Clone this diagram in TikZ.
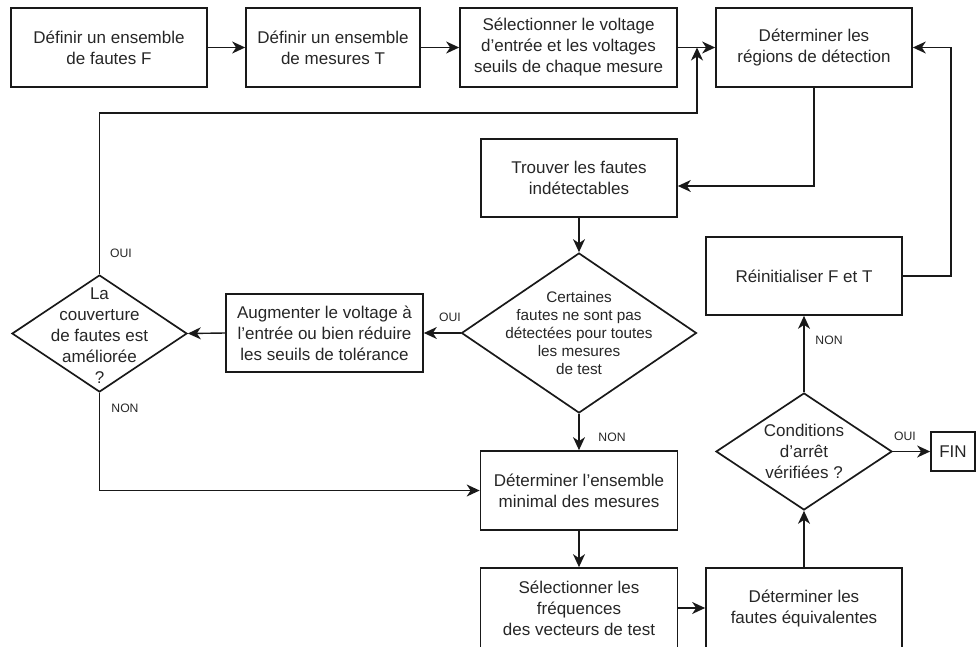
\documentclass[tikz,border=0pt]{standalone}
\usepackage{fontspec}
\setmainfont{Liberation Sans}
\usetikzlibrary{shapes.geometric,arrows.meta,calc}
\tikzset{
  boxnode/.style={draw=black!90, line width=1.7pt, rectangle, align=center, inner sep=2pt,
    font=\fontsize{17}{21}\selectfont, text=black!85},
  dia/.style={draw=black!90, line width=1.7pt, diamond, inner sep=0pt, aspect=1.5},
  diatext/.style={align=center, font=\fontsize{17}{21}\selectfont, text=black!85},
  diatextsmall/.style={align=center, font=\fontsize{15.3}{18}\selectfont, text=black!85},
  arr/.style={draw=black!90, line width=1.4pt, -{Stealth[length=13pt,width=12pt,inset=4pt]}},
  lab/.style={font=\fontsize{12.2}{14}\selectfont, text=black!85, inner sep=0pt}
}
\begin{document}
\begin{tikzpicture}[x=1pt,y=-1pt]
\useasboundingbox (0,0) rectangle (978,646);
% top row
\node[boxnode, minimum width=196pt, minimum height=79pt] (b1) at (109,47.5) {Définir un ensemble\\de fautes F};
\node[boxnode, minimum width=174pt, minimum height=79pt] (b2) at (333,47.5) {Définir un ensemble\\de mesures T};
\node[boxnode, minimum width=217pt, minimum height=79pt] (b3) at (568.5,47.5) {Sélectionner le voltage\\d’entrée et les voltages\\seuils de chaque mesure};
\node[boxnode, minimum width=196pt, minimum height=79pt] (b4) at (814,47.5) {Déterminer les\\régions de détection};
% middle
\node[boxnode, minimum width=196pt, minimum height=78pt] (tr) at (579,178) {Trouver les fautes\\indétectables};
\node[dia, minimum width=235pt, minimum height=160pt,
  label={[diatextsmall]center:{Certaines\\fautes ne sont pas\\détectées pour toutes\\les mesures\\de test}}] (d1) at (579,333) {};
\node[boxnode, minimum width=197pt, minimum height=78pt] (au) at (324.5,333) {Augmenter le voltage à\\l’entrée ou bien réduire\\les seuils de tolérance};
\node[dia, minimum width=175pt, minimum height=117pt,
  label={[diatext, yshift=-2pt]center:{La\\couverture\\de fautes est\\améliorée\\?}}] (d2) at (99.5,333.5) {};
\node[boxnode, minimum width=196pt, minimum height=78pt] (re) at (804,276) {Réinitialiser F et T};
% bottom
\node[boxnode, minimum width=197pt, minimum height=79pt] (de) at (579,490.5) {Déterminer l’ensemble\\minimal des mesures};
\node[boxnode, minimum width=197pt, minimum height=80pt] (sf) at (579,608) {Sélectionner les\\fréquences\\des vecteurs de test};
\node[boxnode, minimum width=196pt, minimum height=80pt] (fe) at (804,608) {Déterminer les\\fautes équivalentes};
\node[dia, minimum width=176pt, minimum height=117pt,
  label={[diatext]center:{Conditions\\d’arrêt\\vérifiées ?}}] (d3) at (804,451.5) {};
\node[boxnode, minimum width=44pt, minimum height=39pt, inner sep=1pt] (fin) at (953,451.5) {FIN};
% helper coordinates
\coordinate (j1) at (697,47.5);
\coordinate (t1) at (697,113);
\coordinate (t3) at (951,47.5);
% connectors
\draw[arr] (b1) -- (b2);
\draw[arr] (b2) -- (b3);
\draw[arr] (b3) -- (b4);
\draw[arr] (d2.north) |- (t1) -- (j1);
\draw[arr] (b4.south) |- ([yshift=-8pt]tr.east);
\draw[arr] (tr.south) -- (d1.north);
\draw[arr] (d1.west) -- (au.east);
\draw[arr] (au.west) -- (d2.east);
\draw[arr] (d2.south) |- (de.west);
\draw[arr] (d1.south) -- (de.north);
\draw[arr] (de.south) -- (sf.north);
\draw[arr] (sf.east) -- (fe.west);
\draw[arr] (fe.north) -- (d3.south);
\draw[arr] (d3.north) -- (re.south);
\draw[arr] (d3.east) -- (fin.west);
\draw[arr] (re.east) -| (t3) -- (b4.east);
% labels
\node[lab] (l1) at (121,253) {OUI};
\node[lab] (l2) at (125,408.5) {NON};
\node[lab] (l3) at (450,317) {OUI};
\node[lab] (l4) at (612,437) {NON};
\node[lab] (l5) at (829,340) {NON};
\node[lab] (l6) at (905,436) {OUI};
\end{tikzpicture}
\end{document}
